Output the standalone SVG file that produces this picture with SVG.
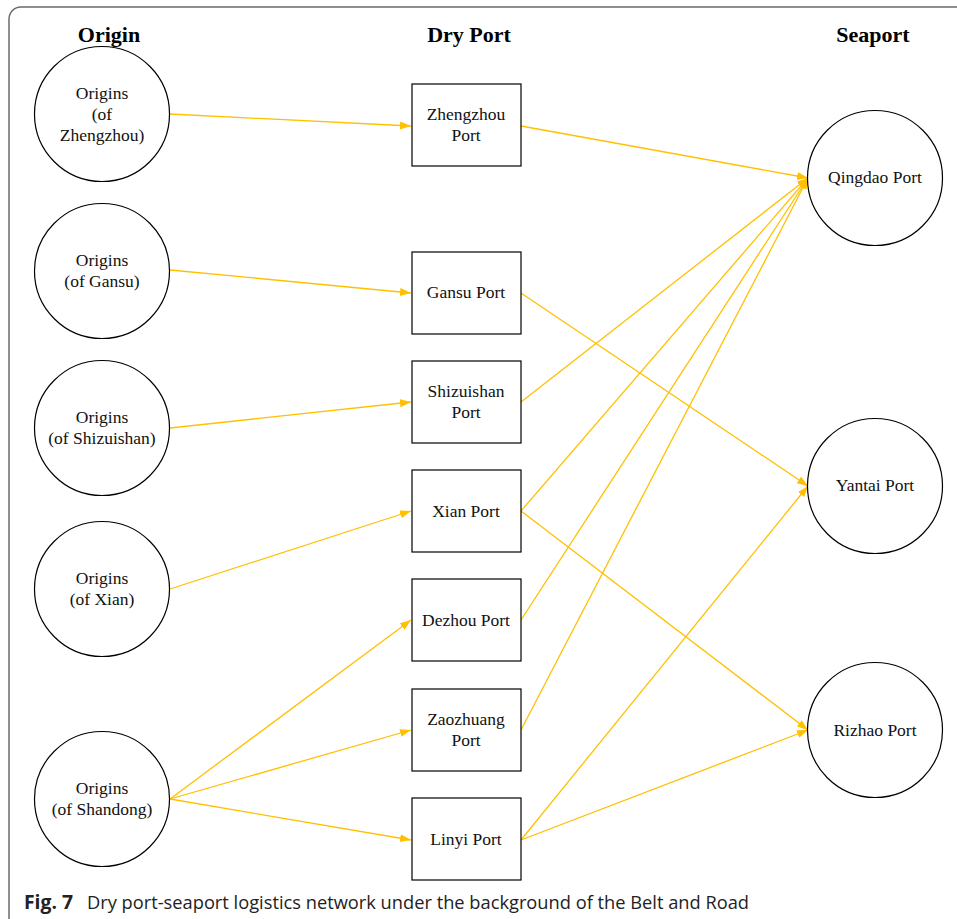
<svg xmlns="http://www.w3.org/2000/svg" width="957" height="919" viewBox="0 0 957 919">
<style>
.frame{fill:none;stroke:#6b6b6b;stroke-width:1.5}
.node circle,.node rect{fill:#fff;stroke:#000;stroke-width:1.2}
.t{font-family:"Liberation Serif","Times New Roman",serif;font-size:17.5px;fill:#111;text-anchor:middle}
.h{font-family:"Liberation Serif","Times New Roman",serif;font-size:22px;font-weight:bold;fill:#000;text-anchor:middle}
.e{stroke:#FFC000;stroke-width:1.3;fill:none;marker-end:url(#ah)}
.cap{font-family:"Open Sans","Liberation Sans",sans-serif;font-size:19px;fill:#222}
</style>
<defs>
<marker id="ah" markerUnits="userSpaceOnUse" markerWidth="12" markerHeight="10" refX="11" refY="4" orient="auto">
<path d="M0,0 L11,4 L0,8 Z" fill="#FFC000"/>
</marker>
</defs>
<rect class="frame" x="9" y="7" width="980" height="940" rx="12"/>
<text class="h" x="109" y="42">Origin</text>
<text class="h" x="469" y="42">Dry Port</text>
<text class="h" x="873" y="42">Seaport</text>

<g id="edges">
<line class="e" x1="170" y1="114" x2="411" y2="126"/>
<line class="e" x1="170" y1="270" x2="411" y2="293"/>
<line class="e" x1="170" y1="428" x2="411" y2="402"/>
<line class="e" x1="170" y1="589" x2="411" y2="511"/>
<line class="e" x1="170" y1="799" x2="411" y2="620"/>
<line class="e" x1="170" y1="799" x2="411" y2="730"/>
<line class="e" x1="170" y1="799" x2="411" y2="840"/>
<line class="e" x1="521" y1="126" x2="808" y2="178"/>
<line class="e" x1="521" y1="293" x2="808" y2="486"/>
<line class="e" x1="521" y1="402" x2="808" y2="178"/>
<line class="e" x1="521" y1="511" x2="808" y2="178"/>
<line class="e" x1="521" y1="511" x2="808" y2="730"/>
<line class="e" x1="521" y1="620" x2="808" y2="178"/>
<line class="e" x1="521" y1="730" x2="808" y2="178"/>
<line class="e" x1="521" y1="840" x2="808" y2="486"/>
<line class="e" x1="521" y1="840" x2="808" y2="730"/>
</g>

<g id="o-zhengzhou" class="node"><circle cx="102" cy="114" r="67.5"/>
<text class="t" x="102" y="99">Origins</text><text class="t" x="102" y="120">(of</text><text class="t" x="102" y="141">Zhengzhou)</text></g>
<g id="o-gansu" class="node"><circle cx="102" cy="271" r="67.5"/>
<text class="t" x="102" y="266">Origins</text><text class="t" x="102" y="287">(of Gansu)</text></g>
<g id="o-shizuishan" class="node"><circle cx="102" cy="428" r="67.5"/>
<text class="t" x="102" y="423">Origins</text><text class="t" x="102" y="444">(of Shizuishan)</text></g>
<g id="o-xian" class="node"><circle cx="102" cy="589" r="67.5"/>
<text class="t" x="102" y="584">Origins</text><text class="t" x="102" y="605">(of Xian)</text></g>
<g id="o-shandong" class="node"><circle cx="102" cy="799" r="67.5"/>
<text class="t" x="102" y="794">Origins</text><text class="t" x="102" y="815">(of Shandong)</text></g>

<g id="d-zhengzhou" class="node"><rect x="412" y="84" width="109" height="82"/>
<text class="t" x="466" y="120">Zhengzhou</text><text class="t" x="466" y="141">Port</text></g>
<g id="d-gansu" class="node"><rect x="412" y="252" width="109" height="82"/>
<text class="t" x="466" y="298">Gansu Port</text></g>
<g id="d-shizuishan" class="node"><rect x="412" y="361" width="109" height="82"/>
<text class="t" x="466" y="397">Shizuishan</text><text class="t" x="466" y="418">Port</text></g>
<g id="d-xian" class="node"><rect x="412" y="470" width="109" height="82"/>
<text class="t" x="466" y="517">Xian Port</text></g>
<g id="d-dezhou" class="node"><rect x="412" y="579" width="109" height="82"/>
<text class="t" x="466" y="626">Dezhou Port</text></g>
<g id="d-zaozhuang" class="node"><rect x="412" y="689" width="109" height="82"/>
<text class="t" x="466" y="725">Zaozhuang</text><text class="t" x="466" y="746">Port</text></g>
<g id="d-linyi" class="node"><rect x="412" y="798" width="109" height="82"/>
<text class="t" x="466" y="845">Linyi Port</text></g>

<g id="s-qingdao" class="node"><circle cx="875" cy="178" r="67.5"/>
<text class="t" x="875" y="183">Qingdao Port</text></g>
<g id="s-yantai" class="node"><circle cx="875" cy="486" r="67.5"/>
<text class="t" x="875" y="491">Yantai Port</text></g>
<g id="s-rizhao" class="node"><circle cx="875" cy="730" r="67.5"/>
<text class="t" x="875" y="736">Rizhao Port</text></g>

<text class="cap" x="24" y="909"><tspan font-weight="bold" textLength="49" lengthAdjust="spacingAndGlyphs">Fig. 7</tspan><tspan x="87" textLength="662" lengthAdjust="spacingAndGlyphs">Dry port-seaport logistics network under the background of the Belt and Road</tspan></text>
</svg>
